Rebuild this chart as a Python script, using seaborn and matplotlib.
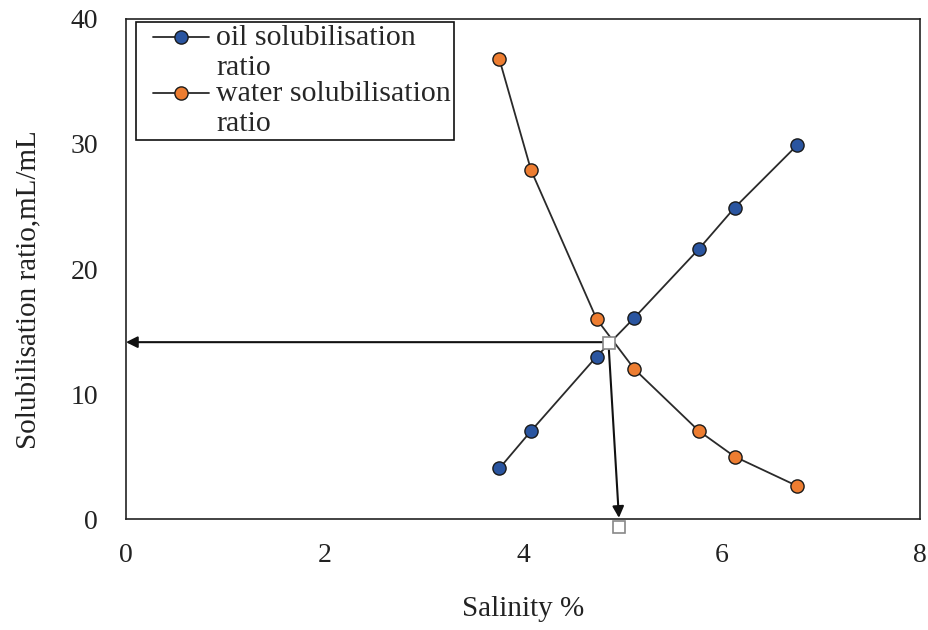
import matplotlib
matplotlib.use("Agg")
import matplotlib.pyplot as plt
from matplotlib.legend_handler import HandlerLine2D
import seaborn as sns
import pandas as pd

# salinity values (%)
salinity = [3.76, 4.08, 4.74, 5.12, 5.77, 6.13, 6.76]
oil_ratio = [4.05, 7.05, 13.0, 16.1, 21.6, 24.9, 29.9]
water_ratio = [36.8, 27.9, 16.0, 12.0, 7.05, 5.0, 2.65]

# optimum point (crossing) and where it lands on the axes
opt_x = [4.86, 4.97]
opt_y = [14.05, -0.62]
arrow_y = 14.15


class FirstLineHandler(HandlerLine2D):
    # put the legend line next to the first text line instead of the middle
    def create_artists(self, legend, orig_handle, xdescent, ydescent, width,
                       height, fontsize, trans):
        return super().create_artists(legend, orig_handle, xdescent,
                                      ydescent - 1.1 * fontsize, width, height,
                                      fontsize, trans)


sns.set_style("white")
plt.rcParams['font.family'] = ['Liberation Serif', 'DejaVu Serif']

df = pd.DataFrame({"salinity": salinity, "oil": oil_ratio, "water": water_ratio})

fig = plt.figure(figsize=(9.29, 6.30), dpi=100)
ax = fig.add_axes([0.1356, 0.176, 0.855, 0.794])

sns.lineplot(data=df, x="salinity", y="oil", ax=ax, sort=False, color="#2a2a2a",
             lw=1.3, marker="o", markersize=9.5, markerfacecolor="#2A55A0",
             markeredgecolor="#1a1a1a", markeredgewidth=1.0,
             label="oil solubilisation\nratio")
sns.lineplot(data=df, x="salinity", y="water", ax=ax, sort=False, color="#2a2a2a",
             lw=1.3, marker="o", markersize=9.5, markerfacecolor="#ED7D31",
             markeredgecolor="#1a1a1a", markeredgewidth=1.0,
             label="water solubilisation\nratio")

# arrows from the optimum point to the axes
ax.annotate("", xy=(0, arrow_y), xytext=(opt_x[0], arrow_y),
            arrowprops=dict(arrowstyle="-|>", color="#111111", lw=1.5,
                            mutation_scale=17, shrinkA=0, shrinkB=0))
ax.annotate("", xy=(opt_x[1] - 0.005, 0.1), xytext=(opt_x[0], opt_y[0]),
            arrowprops=dict(arrowstyle="-|>", color="#111111", lw=1.5,
                            mutation_scale=17, shrinkA=0, shrinkB=0))
ax.plot(opt_x, opt_y, ls="none", marker="s", markersize=9, markerfacecolor="white",
        markeredgecolor="#888888", markeredgewidth=1.2, clip_on=False, zorder=5)

ax.set_xlim(0, 8)
ax.set_ylim(0, 40)
ax.set_xticks([0, 2, 4, 6, 8])
ax.set_yticks([0, 10, 20, 30, 40])
ax.tick_params(axis="both", length=0, labelsize=20, colors="#222222")
ax.tick_params(axis="x", pad=17)
ax.tick_params(axis="y", pad=20)
ax.set_xlabel("Salinity %", fontsize=21, labelpad=20, color="#222222")
ax.set_ylabel("Solubilisation ratio,mL/mL", fontsize=21, color="#222222")
ax.yaxis.set_label_coords(-0.107, 0.458)

for s in ax.spines.values():
    s.set_color("#222222")
    s.set_linewidth(1.2)

hl = FirstLineHandler(xpad=0.47)
handles, labels = ax.get_legend_handles_labels()
leg = ax.legend(handles, labels, loc="upper left", bbox_to_anchor=(0.012, 0.993),
                borderaxespad=0, fontsize=21.5, frameon=True, fancybox=False,
                edgecolor="#111111", framealpha=1, handlelength=2.37,
                handletextpad=0.23, labelspacing=0.0, borderpad=0.1,
                handler_map={h: hl for h in handles})
leg.get_frame().set_linewidth(1.2)

fig.savefig("out.png", dpi=100)
